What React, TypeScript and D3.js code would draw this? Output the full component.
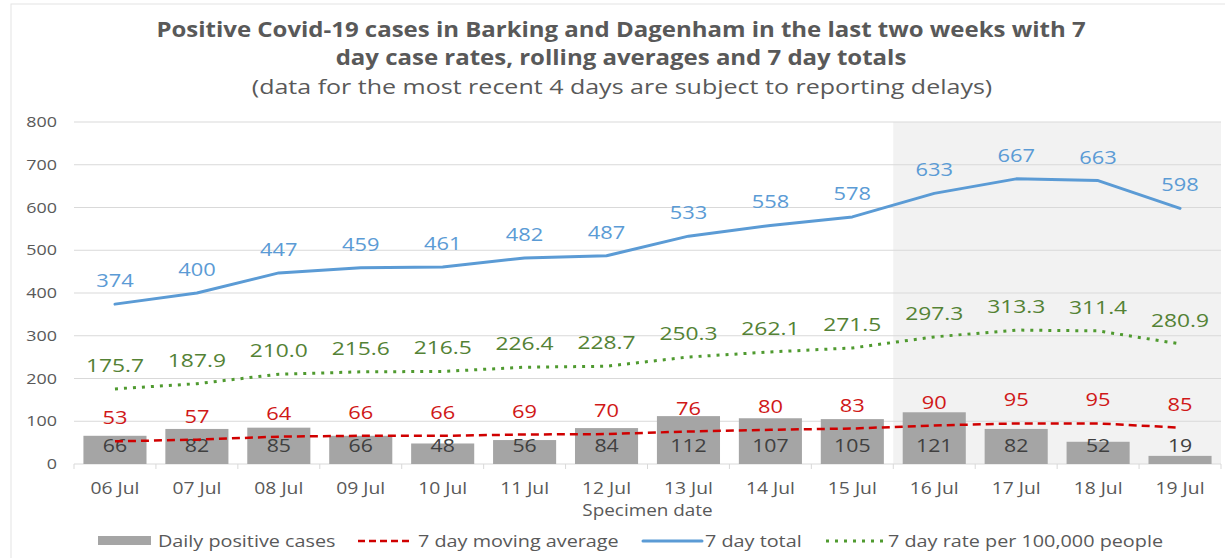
import React from 'react';
import * as d3 from 'd3';

const dates = ["06 Jul", "07 Jul", "08 Jul", "09 Jul", "10 Jul", "11 Jul", "12 Jul",
    "13 Jul", "14 Jul", "15 Jul", "16 Jul", "17 Jul", "18 Jul", "19 Jul"];
const dailyCases = [66, 82, 85, 66, 48, 56, 84, 112, 107, 105, 121, 82, 52, 19];
const movingAvg = [53, 57, 64, 66, 66, 69, 70, 76, 80, 83, 90, 95, 95, 85];
const weekTotal = [374, 400, 447, 459, 461, 482, 487, 533, 558, 578, 633, 667, 663, 598];
const weekRate = [175.7, 187.9, 210.0, 215.6, 216.5, 226.4, 228.7, 250.3, 262.1, 271.5, 297.3, 313.3, 311.4, 280.9];
const yTicks = [0, 100, 200, 300, 400, 500, 600, 700, 800];
const delayedFrom = "16 Jul";

const W = 1225;
const H = 558;
const FONT = "'Open Sans', 'Noto Sans', sans-serif";
const GREY = "#595959";

const x = d3.scaleBand<string>().domain(dates).range([74, 1221]);
const y = d3.scaleLinear().domain([0, 800]).range([464, 122]);
const cx = (d: string) => (x(d) as number) + x.bandwidth() / 2;

// text squeezed/stretched sideways, the source picture is wider than the font
const T = ({x, y, size, fill = GREY, anchor = "middle", weight = "normal", sx = 1.15, children}: any) => (
    <text transform={`translate(${x},${y}) scale(${sx},1)`} fontSize={size} fill={fill}
          textAnchor={anchor} fontWeight={weight} fontFamily={FONT}>{children}</text>
);

const lineGen = (vals: number[]) => d3.line<number>()
    .x((_, i) => cx(dates[i]))
    .y(v => y(v))(vals) as string;

export default function App() {
    const barW = x.bandwidth() * 0.77;
    const [x0, x1] = x.range();

    return (
        <svg width={W} height={H} style={{position: "absolute", left: 0, top: 0, background: "#fff"}}>
            <rect x={11} y={4} width={W} height={H} fill="#fff" stroke="#e3e3e3" />

            {/* title */}
            <T x={621} y={37} size={20.5} sx={1.17} weight="bold">Positive Covid-19 cases in Barking and Dagenham in the last two weeks with 7</T>
            <T x={621} y={65} size={20.5} sx={1.17} weight="bold">day case rates, rolling averages and 7 day totals</T>
            <T x={622} y={94} size={20.5} sx={1.22}>(data for the most recent 4 days are subject to reporting delays)</T>

            {/* shaded period with delayed reporting */}
            <rect x={x(delayedFrom)} y={y(800)} width={x1 - (x(delayedFrom) as number)} height={y(0) - y(800)} fill="#f2f2f2" />

            {/* grid + y axis */}
            {yTicks.map(t => (
                <g key={t}>
                    <line x1={x0} x2={x1} y1={y(t)} y2={y(t)} stroke="#d9d9d9" strokeWidth={1.2} />
                    <T x={57} y={y(t) + 5} size={14} sx={1.28} anchor="end">{t}</T>
                </g>
            ))}

            {/* x axis ticks */}
            {dates.map(d => (
                <line key={d} x1={x(d)} x2={x(d)} y1={y(0)} y2={y(0) + 5} stroke="#d9d9d9" />
            ))}
            <line x1={x1} x2={x1} y1={y(0)} y2={y(0) + 5} stroke="#d9d9d9" />
            {dates.map(d => (
                <T key={d} x={cx(d)} y={494} size={16.5} sx={1.17}>{d}</T>
            ))}
            <T x={(x0 + x1) / 2} y={516} size={15.5} sx={1.22}>Specimen date</T>

            {/* bars */}
            {dailyCases.map((v, i) => (
                <rect key={i} x={cx(dates[i]) - barW / 2} y={y(v)} width={barW} height={y(0) - y(v)} fill="#a5a5a5" />
            ))}
            {dailyCases.map((v, i) => (
                <T key={i} x={cx(dates[i])} y={y(0) - 12} size={18.5} fill="#404040">{v}</T>
            ))}

            {/* lines */}
            <path d={lineGen(movingAvg)} fill="none" stroke="#d00000" strokeWidth={2.5} strokeDasharray="8 5" />
            <path d={lineGen(weekTotal)} fill="none" stroke="#5b9bd5" strokeWidth={3} strokeLinejoin="round" strokeLinecap="round" />
            <path d={lineGen(weekRate)} fill="none" stroke="#4f9a2f" strokeWidth={3} strokeDasharray="3 6" />

            {movingAvg.map((v, i) => (
                <T key={i} x={cx(dates[i])} y={y(v) - 17} size={19} fill="#d01818">{v}</T>
            ))}
            {weekTotal.map((v, i) => (
                <T key={i} x={cx(dates[i])} y={y(v) - 17} size={19} fill="#5b9bd5">{v}</T>
            ))}
            {weekRate.map((v, i) => (
                <T key={i} x={cx(dates[i])} y={y(v) - 17} size={19} sx={1.2} fill="#548235">{v.toFixed(1)}</T>
            ))}

            {/* legend */}
            <rect x={98} y={536} width={53} height={9} fill="#a5a5a5" />
            <T x={158} y={547} size={16.5} sx={1.2} anchor="start">Daily positive cases</T>
            <line x1={358} x2={413} y1={541} y2={541} stroke="#d00000" strokeWidth={2.5} strokeDasharray="7 4" />
            <T x={418} y={547} size={16.5} sx={1.2} anchor="start">7 day moving average</T>
            <line x1={643} x2={702} y1={541} y2={541} stroke="#5b9bd5" strokeWidth={3} strokeLinecap="round" />
            <T x={705} y={547} size={16.5} sx={1.2} anchor="start">7 day total</T>
            <line x1={826} x2={884} y1={541} y2={541} stroke="#4f9a2f" strokeWidth={3} strokeDasharray="3 6" />
            <T x={888} y={547} size={16.5} sx={1.2} anchor="start">7 day rate per 100,000 people</T>
        </svg>
    );
}
